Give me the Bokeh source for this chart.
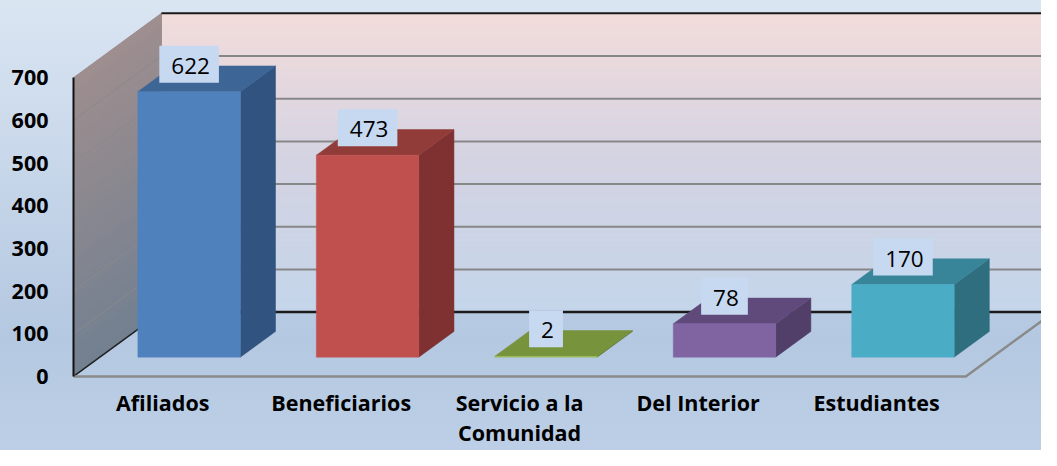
from bokeh.plotting import figure
from bokeh.models import Range1d, FixedTicker, ColumnDataSource
from bokeh.core.properties import value
from bokeh.embed import file_html
from bokeh.resources import INLINE

# ---------------- data ----------------
categories = ["Afiliados", "Beneficiarios", "Servicio a la\nComunidad", "Del Interior", "Estudiantes"]
values = [622, 473, 2, 78, 170]
y_ticks = [0, 100, 200, 300, 400, 500, 600, 700]

# ---------------- styles ----------------
front_colors = ["#4f81bd", "#c0504d", "#9bbb59", "#8064a2", "#4bacc6"]
top_colors = ["#3d6595", "#923c3a", "#77933c", "#604a7b", "#388498"]
side_colors = ["#31537f", "#7e3130", "#5f7630", "#523f69", "#2f6e7f"]

# ---------------- geometry (pixel constants) ----------------
W, H = 1041, 450
SX, SY = W / 1057, H / 466
PX_U = 181.2 * SX           # px per category on the front plane
PX_V = 0.442 * SY           # px per value unit
DEPTH_X, DEPTH_Y = 89.3 * SX, 66.6 * SY
DU = DEPTH_X / PX_U
DV = DEPTH_Y / PX_V
FRAME_LEFT = round(74 * SX)
V0_Y = 389.3 * SY           # figure px of value 0 on the front plane
HALF_W = 0.287              # half bar width (category units)
D0, D1 = 0.30, 0.70         # bar depth extent
LABEL_LIFT = 28.5 * SY / PX_V
VMAX = y_ticks[-1]

x_end = (W - FRAME_LEFT) / PX_U
y_top = V0_Y / PX_V
y_bot = (V0_Y - H) / PX_V

p = figure(width=W, height=H, output_backend="svg", toolbar_location=None,
           x_range=Range1d(0, x_end), y_range=Range1d(y_bot, y_top),
           min_border_left=FRAME_LEFT, min_border_right=0, min_border_top=0,
           min_border_bottom=0)
p.styles = {"background": "linear-gradient(180deg, #dae5f2 0%, #b4c8e1 75%, #bccfe6 100%)"}
p.border_fill_alpha = 0
p.background_fill_alpha = 0
p.outline_line_color = None
p.grid.visible = False


def P(u, v, d):
    return u + d * DU, v + d * DV


def hex2rgb(h):
    h = h.lstrip("#")
    return tuple(int(h[i:i + 2], 16) for i in (0, 2, 4))


def grad(stops, t):
    for (t0, c0), (t1, c1) in zip(stops, stops[1:]):
        if t0 <= t <= t1:
            f = (t - t0) / (t1 - t0) if t1 > t0 else 0
            a, b = hex2rgb(c0), hex2rgb(c1)
            return "#%02x%02x%02x" % tuple(round(a[k] + (b[k] - a[k]) * f) for k in range(3))
    return stops[-1][1]


N = 60
back_stops = [(0.0, "#c4d5ea"), (0.5, "#d4d3e2"), (1.0, "#f2dcdb")]
side_stops = [(0.0, "#728090"), (1.0, "#9e8e8f")]

# back wall
bl, br, bb, bt, bc = [], [], [], [], []
for k in range(N):
    v0 = VMAX * k / N
    v1 = VMAX * (k + 1) / N
    bl.append(DU)
    br.append(x_end + 1)
    bb.append(v0 + DV)
    bt.append(v1 + DV + 0.5)
    bc.append(grad(back_stops, (k + 0.5) / N))
p.quad(left=bl, right=br, bottom=bb, top=bt, fill_color=bc, line_color=None)

# side wall
sxs, sys_, scs = [], [], []
for k in range(N):
    v0 = VMAX * k / N
    v1 = VMAX * (k + 1) / N
    pts = [P(0, v0, 0), P(0, v0, 1), P(0, v1, 1), P(0, v1, 0)]
    sxs.append([q[0] for q in pts])
    sys_.append([q[1] for q in pts])
    scs.append(grad(side_stops, (k + 0.5) / N))
p.patches(sxs, sys_, fill_color=scs, line_color=scs, line_width=1)

# gridlines
for t in y_ticks[1:-1]:
    a, b = P(0, t, 0), P(0, t, 1)
    p.line([a[0], b[0]], [a[1], b[1]], line_color="#8a8a8a", line_width=1.2, line_alpha=0.7)
    p.line([b[0], x_end + 1], [b[1], b[1]], line_color="#878787", line_width=2)
top_back = P(0, VMAX, 1)
p.line([top_back[0], x_end + 1], [top_back[1], top_back[1]], line_color="#1a1a1a", line_width=2)
bot_back = P(0, 0, 1)
p.line([bot_back[0], x_end + 1], [bot_back[1], bot_back[1]], line_color="#1a1a1a", line_width=2.5)
# side wall bottom edge
a, b = P(0, 0, 0), P(0, 0, 1)
p.line([a[0], b[0]], [a[1], b[1]], line_color="#222222", line_width=1.5)
# floor outline
n = len(categories)
f1, f2, f3 = P(0, 0, 0), P(n, 0, 0), P(n, 0, 1)
p.line([f1[0], f2[0], f3[0]], [f1[1], f2[1], f3[1]], line_color="#8a8a8a", line_width=2.5)

# bars
fx, fy, tx, ty, sx, sy = [], [], [], [], [], []
for i, val in enumerate(values):
    u0, u1 = i + 0.5 - HALF_W, i + 0.5 + HALF_W
    front = [P(u0, 0, D0), P(u1, 0, D0), P(u1, val, D0), P(u0, val, D0)]
    top = [P(u0, val, D0), P(u1, val, D0), P(u1, val, D1), P(u0, val, D1)]
    side = [P(u1, 0, D0), P(u1, 0, D1), P(u1, val, D1), P(u1, val, D0)]
    fx.append([q[0] for q in front]); fy.append([q[1] for q in front])
    tx.append([q[0] for q in top]); ty.append([q[1] for q in top])
    sx.append([q[0] for q in side]); sy.append([q[1] for q in side])
p.patches(sx, sy, fill_color=side_colors, line_color=side_colors, line_width=0.5)
p.patches(tx, ty, fill_color=top_colors, line_color=top_colors, line_width=0.5)
p.patches(fx, fy, fill_color=front_colors, line_color=front_colors, line_width=0.5)

# value labels
lab = ColumnDataSource(dict(
    x=[i + 0.5 + D0 * DU for i in range(n)],
    y=[val + D0 * DV + LABEL_LIFT for val in values],
    t=[str(val) for val in values]))
p.text(x="x", y="y", text="t", source=lab, text_font=value("Open Sans"),
       text_font_size="22.5px", text_color="#000000", text_align="center",
       text_baseline="middle", background_fill_color="#c6d9f1",
       padding=(12, 9, 12, 9))

# axes
ya = p.yaxis[0]
ya.ticker = FixedTicker(ticks=y_ticks)
ya.bounds = (0, VMAX)
ya.axis_line_color = "#111111"
ya.axis_line_width = 2
ya.major_tick_line_color = None
ya.minor_tick_line_color = None
ya.major_tick_out = 0
ya.major_tick_in = 0
ya.major_label_standoff = 25
ya.major_label_text_font = "Open Sans"
ya.major_label_text_font_style = "bold"
ya.major_label_text_font_size = "21.5px"
ya.major_label_text_color = "#000000"

xa = p.xaxis[0]
xa.fixed_location = 0
xa.ticker = FixedTicker(ticks=[i + 0.5 for i in range(n)])
xa.major_label_overrides = {i + 0.5: c for i, c in enumerate(categories)}
xa.axis_line_color = None
xa.major_tick_line_color = None
xa.minor_tick_line_color = None
xa.major_tick_out = 0
xa.major_tick_in = 0
xa.major_label_standoff = 12
xa.major_label_text_font = "Open Sans"
xa.major_label_text_font_style = "bold"
xa.major_label_text_font_size = "21.5px"
xa.major_label_text_color = "#000000"
xa.major_label_text_line_height = 1.02

open("out.html", "w").write(file_html(p, INLINE))
